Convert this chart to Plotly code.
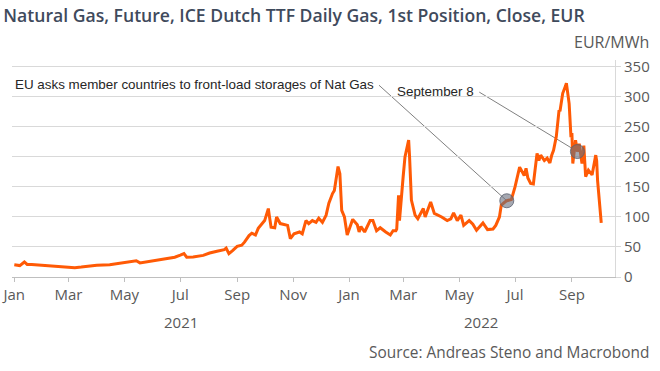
import plotly.graph_objects as go

# ---- data ----
dates = [
    "2021-01-01", "2021-01-04", "2021-01-07", "2021-01-12", "2021-01-15", "2021-01-20", "2021-01-27",
    "2021-02-03", "2021-02-10", "2021-02-17", "2021-02-24", "2021-03-01", "2021-03-08", "2021-03-15",
    "2021-03-22", "2021-04-01", "2021-04-15", "2021-05-03", "2021-05-10", "2021-05-14", "2021-05-18",
    "2021-06-01", "2021-06-15", "2021-06-25", "2021-07-01", "2021-07-05", "2021-07-08", "2021-07-15",
    "2021-07-26", "2021-08-02", "2021-08-10", "2021-08-18", "2021-08-20", "2021-08-23", "2021-08-27",
    "2021-09-01", "2021-09-06", "2021-09-09", "2021-09-14", "2021-09-17", "2021-09-21", "2021-09-24",
    "2021-10-01", "2021-10-05", "2021-10-06", "2021-10-08", "2021-10-12", "2021-10-14", "2021-10-18",
    "2021-10-22", "2021-10-26", "2021-10-29", "2021-11-02", "2021-11-08", "2021-11-11", "2021-11-15",
    "2021-11-18", "2021-11-22", "2021-11-26", "2021-11-29", "2021-12-03", "2021-12-07", "2021-12-10",
    "2021-12-14", "2021-12-16", "2021-12-20", "2021-12-22", "2021-12-24", "2021-12-27", "2021-12-30",
    "2022-01-05", "2022-01-10", "2022-01-12", "2022-01-14", "2022-01-18", "2022-01-24", "2022-01-27",
    "2022-01-31", "2022-02-04", "2022-02-10", "2022-02-15", "2022-02-18", "2022-02-21", "2022-02-22",
    "2022-02-24", "2022-02-25", "2022-02-28", "2022-03-01", "2022-03-03", "2022-03-07", "2022-03-08",
    "2022-03-09", "2022-03-10", "2022-03-14", "2022-03-17", "2022-03-23", "2022-03-25", "2022-03-31",
    "2022-04-04", "2022-04-12", "2022-04-18", "2022-04-22", "2022-04-25", "2022-04-29", "2022-05-03",
    "2022-05-06", "2022-05-12", "2022-05-16", "2022-05-20", "2022-05-27", "2022-06-01", "2022-06-07",
    "2022-06-10", "2022-06-14", "2022-06-16", "2022-06-20", "2022-06-22", "2022-06-27", "2022-07-01",
    "2022-07-06", "2022-07-11", "2022-07-13", "2022-07-15", "2022-07-18", "2022-07-21", "2022-07-25",
    "2022-07-27", "2022-07-29", "2022-08-02", "2022-08-05", "2022-08-08", "2022-08-10", "2022-08-12",
    "2022-08-15", "2022-08-18", "2022-08-19", "2022-08-22", "2022-08-25", "2022-08-26", "2022-08-29",
    "2022-08-30", "2022-08-31", "2022-09-01", "2022-09-02", "2022-09-05", "2022-09-06", "2022-09-07",
    "2022-09-09", "2022-09-12", "2022-09-14", "2022-09-16", "2022-09-19", "2022-09-22", "2022-09-23",
    "2022-09-27", "2022-09-28", "2022-09-29", "2022-10-03",
]
prices = [
    20.5, 19.5, 19, 25, 21, 21, 20,
    19.8, 19, 17.8, 16.5, 16, 15.5, 16.5,
    17.8, 19.5, 20.5, 24, 25.5, 27, 23.5,
    27, 29.5, 33, 36.5, 39, 33, 33.5,
    36, 40, 43, 45.5, 48, 39, 44,
    51, 53, 58, 69, 73, 70, 81,
    94, 114, 103, 83, 82, 100, 89,
    88, 86, 64, 72, 75, 72, 94,
    89, 94, 91, 98, 91, 103, 123,
    139, 144, 184, 172, 111, 100, 70,
    96, 87, 75, 84, 75, 94, 94,
    77, 82, 75, 70, 77, 77, 80,
    136, 94, 161, 167, 200, 228, 200,
    150, 128, 103, 97, 114, 100, 125,
    106, 100, 94, 97, 107, 94, 103,
    86, 94, 88, 78, 90, 79, 80,
    86, 100, 120, 125, 127, 129, 150,
    183, 169, 181, 165, 156, 155, 206,
    194, 203, 194, 198, 190, 203, 211,
    234, 278, 276, 306, 318, 323, 289,
    255, 233, 240, 189, 228, 217, 209,
    222, 189, 219, 167, 178, 173, 170,
    203, 194, 161, 90,
]

event_dates = ["2022-06-22", "2022-09-07"]
event_labels = ["EU asks member countries to front-load storages of Nat Gas", "September 8"]
event_values = [prices[dates.index(d)] for d in event_dates]

year_labels = ["2021", "2022"]
year_label_dates = ["2021-07-02", "2022-05-25"]
y_ticks = [0, 50, 100, 150, 200, 250, 300, 350]

TITLE = "Natural Gas, Future, ICE Dutch TTF Daily Gas, 1st Position, Close, EUR"
UNIT = "EUR/MWh"
SOURCE = "Source: Andreas Steno and Macrobond"

FONT = "Open Sans"
GREY = "#595959"
ORANGE = "#FF5A05"

fig = go.Figure()
fig.add_trace(go.Scatter(
    x=dates, y=prices, mode="lines",
    line=dict(color=ORANGE, width=3), hoverinfo="skip", showlegend=False,
))
fig.add_trace(go.Scatter(
    x=event_dates, y=event_values, mode="markers",
    marker=dict(size=14, color="rgba(105,110,125,0.6)",
                line=dict(color="rgba(90,95,110,0.8)", width=1)),
    hoverinfo="skip", showlegend=False,
))

# leader lines from label ends to the event markers
tails = [("2022-02-02 16:00", 319.5), ("2022-05-23", 308)]
for (tx, ty), d, v in zip(tails, event_dates, event_values):
    fig.add_shape(type="line", xref="x", yref="y", x0=tx, y0=ty, x1=d, y1=v,
                  line=dict(color="#808080", width=1), layer="below")

annotations = [
    dict(text=event_labels[0], xref="paper", yref="paper", x=0.6035, y=0.887,
         xanchor="right", yanchor="middle", showarrow=False,
         font=dict(family="Liberation Sans", size=13.4, color="#262626")),
    dict(text=event_labels[1], xref="paper", yref="paper", x=0.7695, y=0.855,
         xanchor="right", yanchor="middle", showarrow=False,
         font=dict(family="Liberation Sans", size=13.4, color="#262626")),
    dict(text=UNIT, xref="paper", yref="paper", x=1.060, y=1.083,
         xanchor="right", yanchor="middle", showarrow=False,
         font=dict(family=FONT, size=16, color=GREY)),
    dict(text=SOURCE, xref="paper", yref="paper", x=1.060, y=-0.35,
         xanchor="right", yanchor="middle", showarrow=False,
         font=dict(family=FONT, size=15.4, color=GREY)),
]
for lab, d in zip(year_labels, year_label_dates):
    annotations.append(dict(text=lab, xref="x", yref="paper", x=d, y=-0.207,
                            xanchor="center", yanchor="middle", showarrow=False,
                            font=dict(family=FONT, size=15, color=GREY)))

fig.update_layout(
    width=660, height=371,
    margin=dict(l=12, r=45, t=60, b=94),
    paper_bgcolor="white", plot_bgcolor="white",
    title=dict(text=TITLE, x=0.005, xanchor="left", xref="container",
               y=0.958, yanchor="middle", yref="container",
               font=dict(family=FONT, size=17.6, weight=600, color="#3F4A5C")),
    annotations=annotations,
    xaxis=dict(
        type="date", range=["2020-12-29 12:00", "2022-10-18"],
        tick0="2021-01-01", dtick="M2", tickformat="%b",
        ticks="outside", ticklen=4, tickcolor="#bfbfbf",
        showline=True, linecolor="#bfbfbf", linewidth=1,
        showgrid=False, zeroline=False, automargin=False,
        tickfont=dict(family=FONT, size=15, color=GREY),
    ),
    yaxis=dict(
        side="right", range=[0, 361.5], tickvals=y_ticks,
        ticks="outside", ticklen=5, tickcolor="#d9d9d9",
        showline=True, linecolor="#d9d9d9", linewidth=1,
        showgrid=True, gridcolor="#d9d9d9", gridwidth=1, zeroline=False,
        automargin=False,
        tickfont=dict(family=FONT, size=15, color=GREY),
    ),
)

fig.write_html("out.html", config={"displayModeBar": False},
               post_script="document.body.style.margin='0px';")
